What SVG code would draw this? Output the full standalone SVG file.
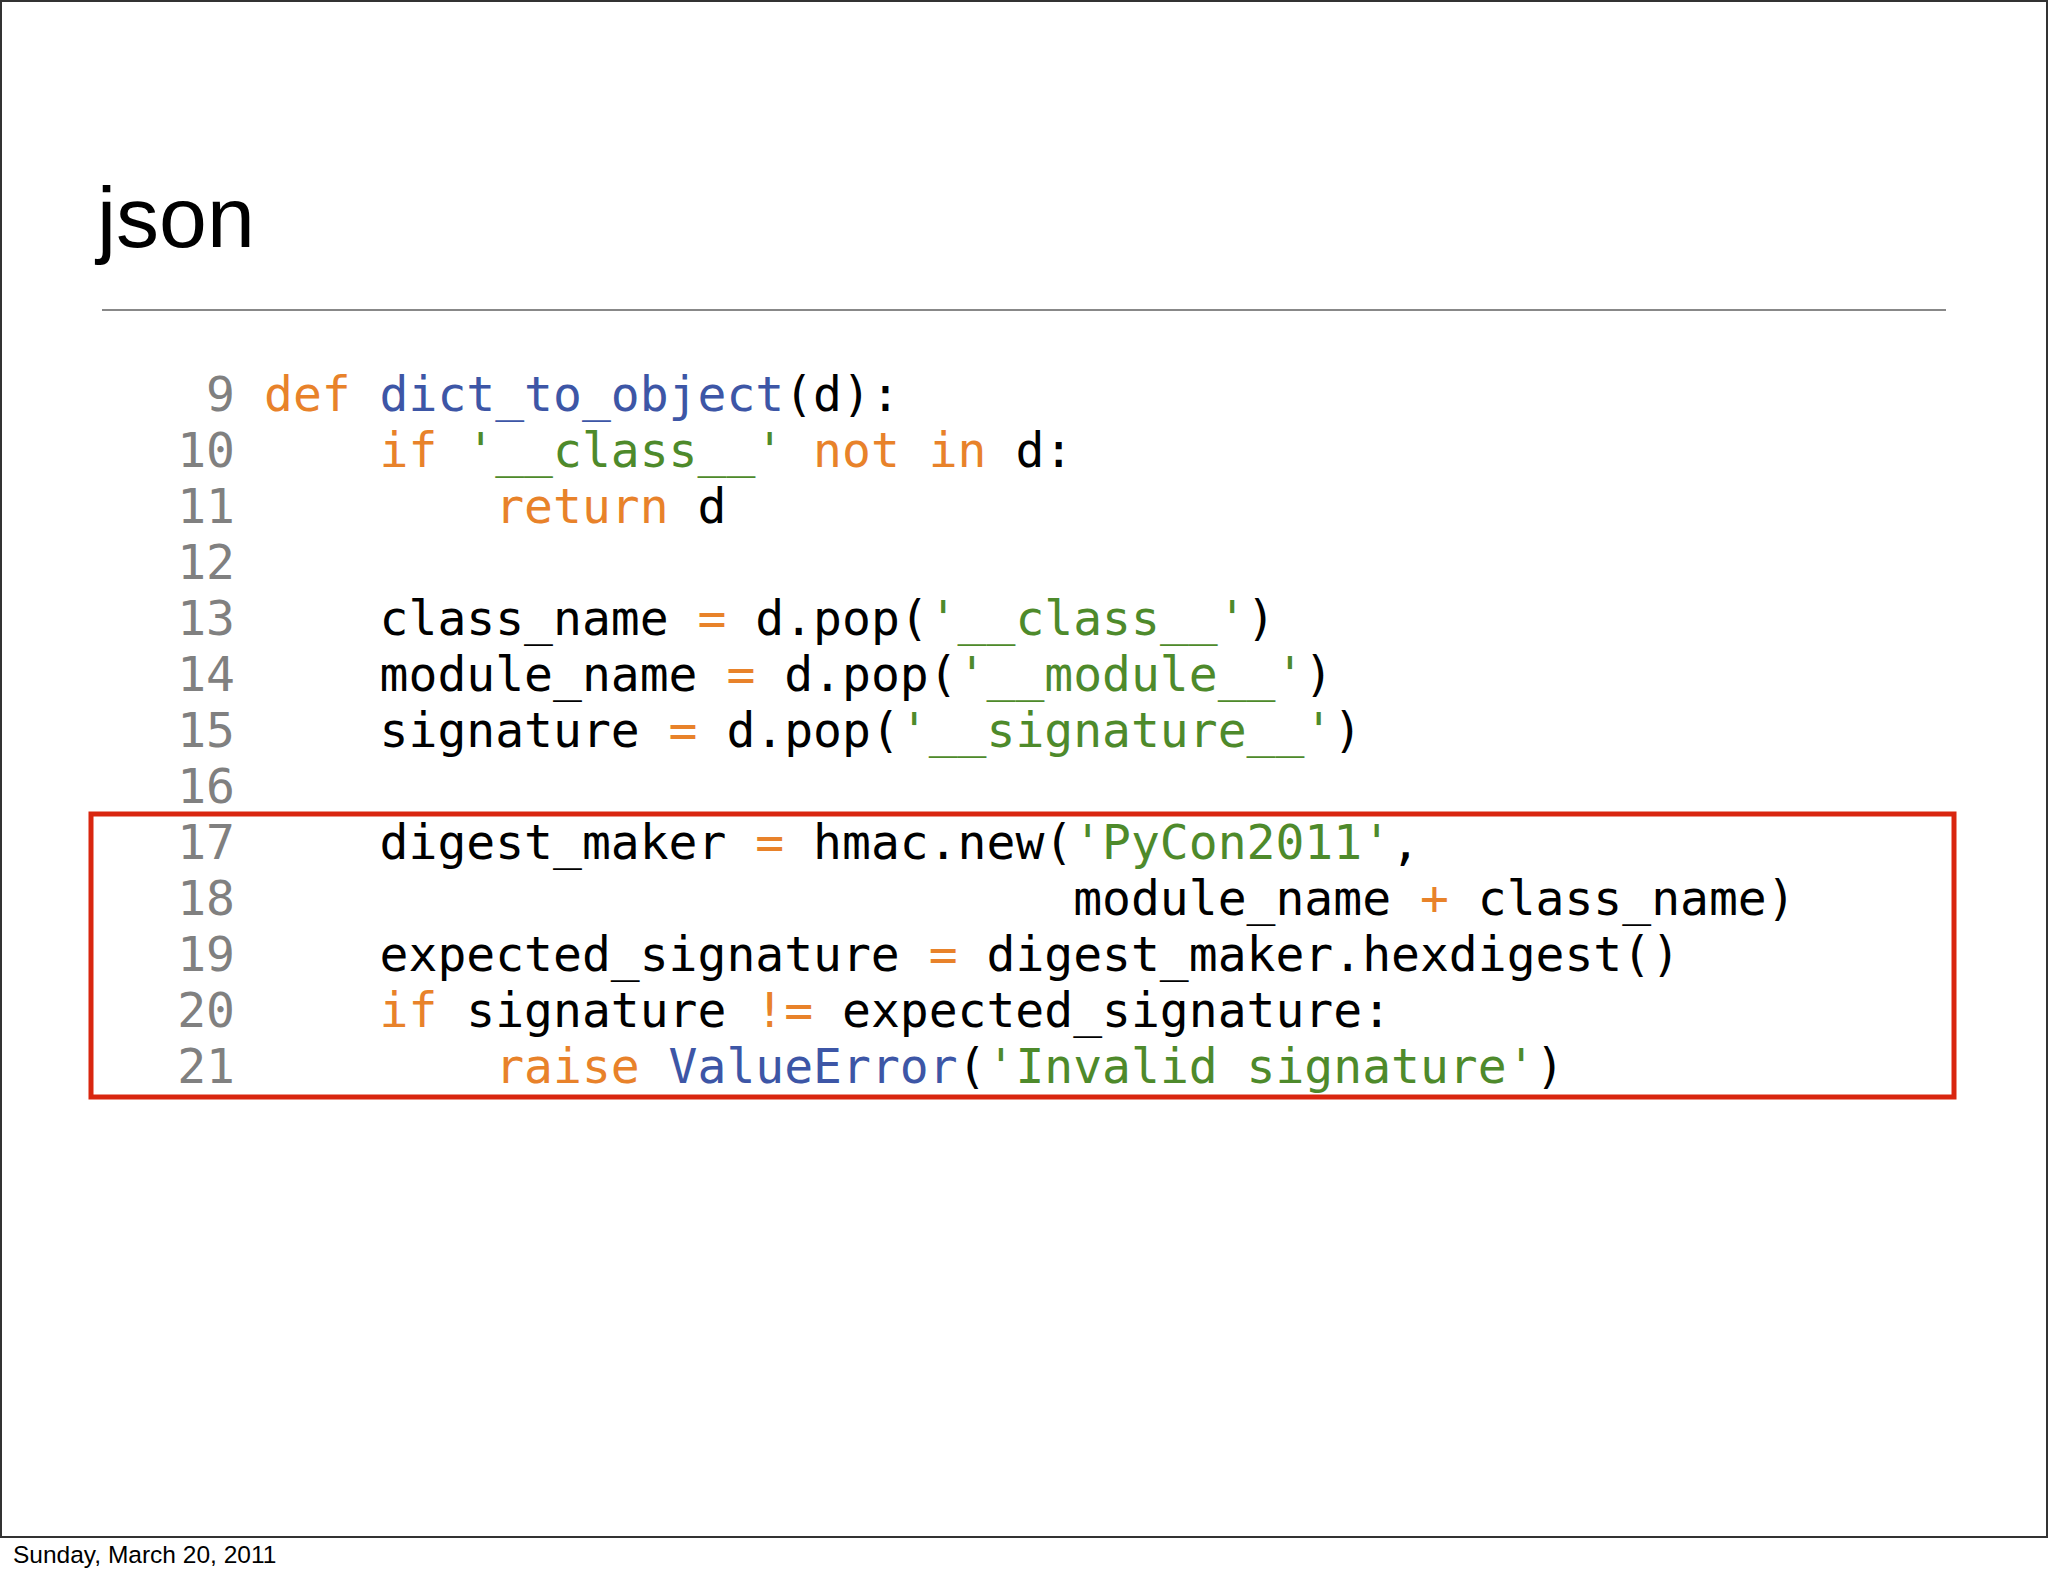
<svg xmlns="http://www.w3.org/2000/svg" width="2048" height="1576" viewBox="0 0 2048 1576">
<style>
.c{font-family:"DejaVu Sans Mono",monospace;font-size:48px;fill:#000;white-space:pre}
.n{fill:#808080}
.k{fill:#E8822A}
.f{fill:#3D56A6}
.s{fill:#4E8A2B}
</style>
<rect width="2048" height="1576" fill="#fff"/>
<rect x="1" y="1" width="2046" height="1536" fill="none" stroke="#333" stroke-width="2"/>
<g id="title"><text x="97" y="247" font-family="Liberation Sans, Arial, sans-serif" font-size="86" fill="#000">json</text></g>
<line x1="102" y1="310" x2="1946" y2="310" stroke="#888" stroke-width="2"/>
<g id="code" class="c" xml:space="preserve">
<text x="235" y="411" text-anchor="end" class="c n">9</text>
<text x="264" y="411" class="c"><tspan class="k">def</tspan> <tspan class="f">dict_to_object</tspan>(d):</text>
<text x="235" y="467" text-anchor="end" class="c n">10</text>
<text x="264" y="467" class="c">    <tspan class="k">if</tspan> <tspan class="s">'__class__'</tspan> <tspan class="k">not</tspan> <tspan class="k">in</tspan> d:</text>
<text x="235" y="523" text-anchor="end" class="c n">11</text>
<text x="264" y="523" class="c">        <tspan class="k">return</tspan> d</text>
<text x="235" y="579" text-anchor="end" class="c n">12</text>
<text x="235" y="635" text-anchor="end" class="c n">13</text>
<text x="264" y="635" class="c">    class_name <tspan class="k">=</tspan> d.pop(<tspan class="s">'__class__'</tspan>)</text>
<text x="235" y="691" text-anchor="end" class="c n">14</text>
<text x="264" y="691" class="c">    module_name <tspan class="k">=</tspan> d.pop(<tspan class="s">'__module__'</tspan>)</text>
<text x="235" y="747" text-anchor="end" class="c n">15</text>
<text x="264" y="747" class="c">    signature <tspan class="k">=</tspan> d.pop(<tspan class="s">'__signature__'</tspan>)</text>
<text x="235" y="803" text-anchor="end" class="c n">16</text>
<text x="235" y="859" text-anchor="end" class="c n">17</text>
<text x="264" y="859" class="c">    digest_maker <tspan class="k">=</tspan> hmac.new(<tspan class="s">'PyCon2011'</tspan>,</text>
<text x="235" y="915" text-anchor="end" class="c n">18</text>
<text x="264" y="915" class="c">                            module_name <tspan class="k">+</tspan> class_name)</text>
<text x="235" y="971" text-anchor="end" class="c n">19</text>
<text x="264" y="971" class="c">    expected_signature <tspan class="k">=</tspan> digest_maker.hexdigest()</text>
<text x="235" y="1027" text-anchor="end" class="c n">20</text>
<text x="264" y="1027" class="c">    <tspan class="k">if</tspan> signature <tspan class="k">!=</tspan> expected_signature:</text>
<text x="235" y="1083" text-anchor="end" class="c n">21</text>
<text x="264" y="1083" class="c">        <tspan class="k">raise</tspan> <tspan class="f">ValueError</tspan>(<tspan class="s">'Invalid signature'</tspan>)</text>
</g>
<rect id="highlight" x="91" y="814" width="1863" height="283" fill="none" stroke="#D9260F" stroke-width="5"/>
<g id="footer"><text x="13" y="1563" font-family="Liberation Sans, Arial, sans-serif" font-size="24.5" fill="#000">Sunday, March 20, 2011</text></g>
</svg>
